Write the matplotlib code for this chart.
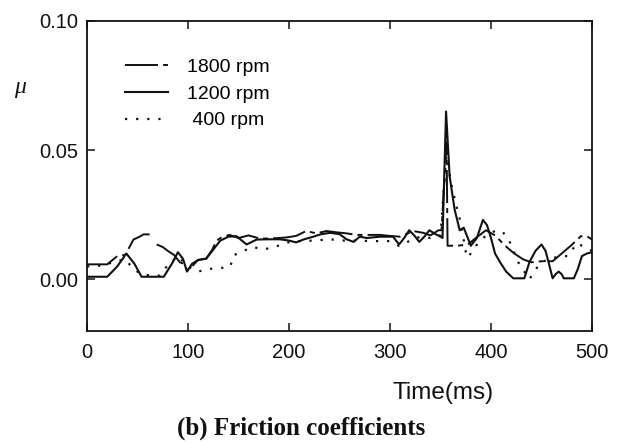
import numpy as np
import matplotlib.pyplot as plt

#%% dados (tempo em ms, coeficiente de atrito)
t_1800  = [0, 20, 30, 38, 46, 52, 56, 62, 65, 69, 75, 80, 86, 92, 96, 99, 104, 110, 118,
           124, 128, 132, 141, 150, 160, 171, 180, 190, 197, 207, 217, 227, 237, 247,
           257, 267, 277, 290, 300, 310, 323, 333, 340, 348, 351, 356, 357, 367, 377,
           385, 395, 404, 414, 423, 432, 440, 450, 461, 470, 479, 489, 495, 500]
mu_1800 = [0.0058, 0.0058, 0.009, 0.0095, 0.0154, 0.0165, 0.0174, 0.0174, np.nan, 0.0135,
           0.0125, 0.011, 0.0095, 0.0066, 0.006, 0.0035, 0.005, 0.0075, 0.008, 0.0115,
           0.0148, 0.016, 0.0172, 0.016, 0.017, 0.0158, 0.0158, 0.016, 0.0162, 0.0168,
           0.0187, 0.0178, 0.0187, 0.0182, 0.0178, 0.0172, 0.0172, 0.0172, 0.0168, 0.0165,
           0.0187, 0.018, 0.017, 0.019, 0.019, 0.053, 0.013, 0.013, 0.0135, 0.016, 0.019,
           0.017, 0.013, 0.010, 0.0077, 0.0066, 0.007, 0.007, 0.010, 0.013, 0.0167,
           0.0167, 0.0154]

t_1200  = [0, 20, 30, 39, 47, 54, 76, 84, 90, 95, 99, 104, 110, 118, 125, 132, 140, 148,
           158, 168, 180, 191, 200, 207, 215, 224, 232, 241, 250, 257, 264, 270, 277, 290,
           303, 309, 314, 319, 324, 329, 334, 339, 345, 350, 352, 355.5, 359, 364, 369,
           373, 380, 386, 392, 396, 400, 404, 409, 415, 422, 433, 438, 444, 450, 454, 457,
           461, 464, 467, 470, 472, 482, 486, 490, 495, 500]
mu_1200 = [0.001, 0.001, 0.005, 0.0100, 0.006, 0.001, 0.001, 0.006, 0.0105, 0.008, 0.003,
           0.006, 0.0075, 0.008, 0.0115, 0.015, 0.0165, 0.0167, 0.0135, 0.0154, 0.0155,
           0.0155, 0.015, 0.0143, 0.0155, 0.0165, 0.0175, 0.018, 0.0175, 0.0155, 0.0145,
           0.0165, 0.016, 0.0165, 0.0165, 0.0135, 0.016, 0.019, 0.017, 0.0145, 0.0165,
           0.019, 0.0175, 0.0165, 0.016, 0.065, 0.040, 0.027, 0.019, 0.020, 0.013, 0.016,
           0.023, 0.021, 0.016, 0.010, 0.0066, 0.003, 0.0004, 0.0004, 0.0066, 0.011,
           0.0135, 0.011, 0.0066, 0.0004, 0.002, 0.003, 0.002, 0.0004, 0.0004, 0.004,
           0.009, 0.0100, 0.0105]

t_400   = [0, 17, 28, 38, 46, 54, 63, 72, 79, 90, 100, 110, 120, 135, 142, 145, 155, 164,
           175, 186, 197, 210, 225, 240, 255, 270, 280, 290, 300, 309, 320, 330, 340, 350,
           356, 360, 366, 370, 376, 378, 385, 395, 404, 411, 418, 427, 438, 449, 460, 468,
           476, 485, 495, 500]
mu_400  = [0.005, 0.0054, 0.007, 0.0077, 0.004, 0.002, 0.0015, 0.0015, 0.005, 0.009,
           0.005, 0.003, 0.004, 0.0045, 0.005, 0.0093, 0.011, 0.0125, 0.0116, 0.0125,
           0.0142, 0.0148, 0.015, 0.0155, 0.015, 0.015, 0.0148, 0.0148, 0.0148, 0.0129,
           0.015, 0.0165, 0.016, 0.017, 0.050, 0.038, 0.028, 0.022, 0.0085, 0.0089, 0.013,
           0.017, 0.0187, 0.0187, 0.015, 0.0066, 0.000, 0.0066, 0.008, 0.009, 0.009,
           0.014, 0.012, 0.011]

rotulos = ['1800 rpm', '1200 rpm', ' 400 rpm']
x_ticks = [0, 100, 200, 300, 400, 500]
y_ticks = [0.00, 0.05, 0.10]

#%% figura
plt.rcParams['font.family'] = 'Liberation Sans'
cor = '#111111'

fig = plt.figure(figsize=(6.19, 4.45), dpi=100)
ax  = fig.add_axes([87/619, 1-331/445, 505/619, 310/445])

ax.plot(t_1800, mu_1800, color=cor, lw=1.4, ls=(0, (17, 2.6, 2.6, 2.6)), label=rotulos[0])
ax.plot(t_1200, mu_1200, color=cor, lw=1.5, ls='-', label=rotulos[1])
ax.plot(t_400, mu_400, color=cor, lw=1.6, ls=(0, (1, 4)), label=rotulos[2])

ax.set_xlim(0, 500)
ax.set_ylim(-0.02, 0.10)
ax.set_xticks(x_ticks)
ax.set_yticks(y_ticks)
ax.set_yticklabels(['%.2f' % v for v in y_ticks])
ax.tick_params(direction='in', top=True, right=True, length=6, width=1.1,
               labelsize=14.5, pad=9, colors=cor)
ax.tick_params(axis='y', pad=6)
for s in ax.spines.values():
    s.set_linewidth(1.3)
    s.set_color(cor)

ax.legend(loc='upper left', bbox_to_anchor=(0.075, 0.88), frameon=False,
          fontsize=14, handlelength=2.2, handletextpad=1.0, labelspacing=0.47,
          borderpad=0, borderaxespad=0)

fig.text(20/619, 1-87/445, 'μ', family='Liberation Serif', style='italic',
         fontsize=17, ha='center', va='center', color=cor)
fig.text(443/619, 1-393/445, 'Time(ms)', fontsize=17.5, ha='center', va='center', color=cor)
fig.text(301/619, 1-428/445, '(b) Friction coefficients', family='Liberation Serif',
         weight='bold', fontsize=18, ha='center', va='center', color=cor)

fig.savefig('out.png', dpi=100, facecolor='white')
